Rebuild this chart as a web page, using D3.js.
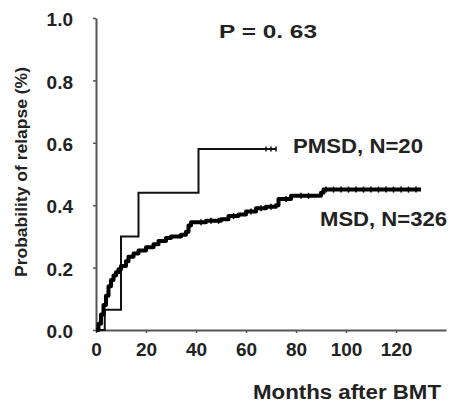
<!DOCTYPE html>
<html>
<head>
<meta charset="utf-8">
<script src="https://cdn.jsdelivr.net/npm/d3@7"></script>
<style>
  body { margin: 0; background: #fff; }
  text { font-family: Arial, "Liberation Sans", sans-serif; font-weight: bold; fill: #222; }
</style>
</head>
<body>
<div id="chart"></div>
<script>
// cumulative relapse: [month, probability]
const msdSteps = [
  [0, 0], [1, 0.02], [2, 0.05], [3, 0.08], [4, 0.11], [5, 0.14], [6, 0.16],
  [7, 0.175], [8, 0.185], [9, 0.195], [10, 0.205], [12, 0.22], [13, 0.235],
  [15, 0.245], [17, 0.255], [20, 0.265], [23, 0.275], [25, 0.285], [28, 0.295],
  [30, 0.3], [34, 0.305], [36, 0.315], [37, 0.335], [38, 0.345], [44, 0.35],
  [50, 0.355], [53, 0.365], [57, 0.37], [60, 0.38], [64, 0.39], [68, 0.395],
  [72, 0.4], [73, 0.42], [78, 0.43], [90, 0.44], [91, 0.45], [130, 0.45]
];
const pmsdSteps = [[0, 0], [3.5, 0.065], [10, 0.3], [17, 0.44], [41, 0.58], [72, 0.58]];

// censored observations (months)
const msdCensored = [42, 46, 49, 55, 62, 66, 70, 76, 82, 85, 92, 95, 98, 101, 104, 107, 110, 113, 116, 119, 122, 125, 128];
const pmsdCensored = [68, 70, 72];

const xTicks = [0, 20, 40, 60, 80, 100, 120];
const yTicks = [0, 0.2, 0.4, 0.6, 0.8, 1.0];

const width = 451, height = 405;
const svg = d3.select("#chart").append("svg").attr("width", width).attr("height", height);

const x = d3.scaleLinear().domain([0, 140]).range([96, 446]);
const y = d3.scaleLinear().domain([0, 1]).range([330, 18]);

// axes
const xAxis = svg.append("g")
  .attr("transform", "translate(0," + y(0) + ")")
  .call(d3.axisBottom(x).tickValues(xTicks).tickSize(3).tickSizeOuter(0).tickPadding(10));
const yAxis = svg.append("g")
  .attr("transform", "translate(" + x(0) + ",0)")
  .call(d3.axisLeft(y).tickValues(yTicks).tickSize(3).tickSizeOuter(0).tickPadding(20)
    .tickFormat(d3.format(".1f")));

[xAxis, yAxis].forEach(g => {
  g.select(".domain").attr("stroke", "#555").attr("stroke-width", 2);
  g.selectAll(".tick line").attr("stroke", "#555").attr("stroke-width", 1.5);
  g.selectAll(".tick text").style("font-size", "19px").attr("fill", "#222");
});
yAxis.selectAll(".tick text").attr("dy", "0.4em");

const line = d3.line().x(d => x(d[0])).y(d => y(d[1])).curve(d3.curveStepAfter);

// PMSD thin step curve
svg.append("path").datum(pmsdSteps)
  .attr("d", line).attr("fill", "none").attr("stroke", "#111").attr("stroke-width", 2);

// MSD thick curve
svg.append("path").datum(msdSteps)
  .attr("d", line).attr("fill", "none").attr("stroke", "#000").attr("stroke-width", 4)
  .attr("stroke-linejoin", "round");

// censor marks
function stepValue(steps, t) {
  let v = 0;
  steps.forEach(s => { if (s[0] <= t) v = s[1]; });
  return v;
}
svg.selectAll(".cm").data(msdCensored).enter().append("line")
  .attr("x1", d => x(d)).attr("x2", d => x(d))
  .attr("y1", d => y(stepValue(msdSteps, d)) - 3)
  .attr("y2", d => y(stepValue(msdSteps, d)) + 3)
  .attr("stroke", "#000").attr("stroke-width", 1.5);
svg.selectAll(".cp").data(pmsdCensored).enter().append("line")
  .attr("x1", d => x(d)).attr("x2", d => x(d))
  .attr("y1", d => y(stepValue(pmsdSteps, d)) - 2.5)
  .attr("y2", d => y(stepValue(pmsdSteps, d)) + 2.5)
  .attr("stroke", "#111").attr("stroke-width", 1.5);

// labels (stretched a little to the widths in the scan)
function label(xp, yp, size, len, str) {
  return svg.append("text").attr("x", xp).attr("y", yp).style("font-size", size + "px")
    .attr("textLength", len).attr("lengthAdjust", "spacingAndGlyphs").text(str);
}
label(219, 38, 19, 98, "P  = 0. 63");
label(293, 153, 20, 130, "PMSD, N=20");
label(320, 226, 20, 127, "MSD, N=326");
label(253, 399, 20, 188, "Months after BMT");
svg.append("text")
  .attr("transform", "translate(27,172) rotate(-90)")
  .attr("text-anchor", "middle").style("font-size", "17px")
  .attr("textLength", 210).attr("lengthAdjust", "spacingAndGlyphs")
  .text("Probability of relapse (%)");
</script>
</body>
</html>
